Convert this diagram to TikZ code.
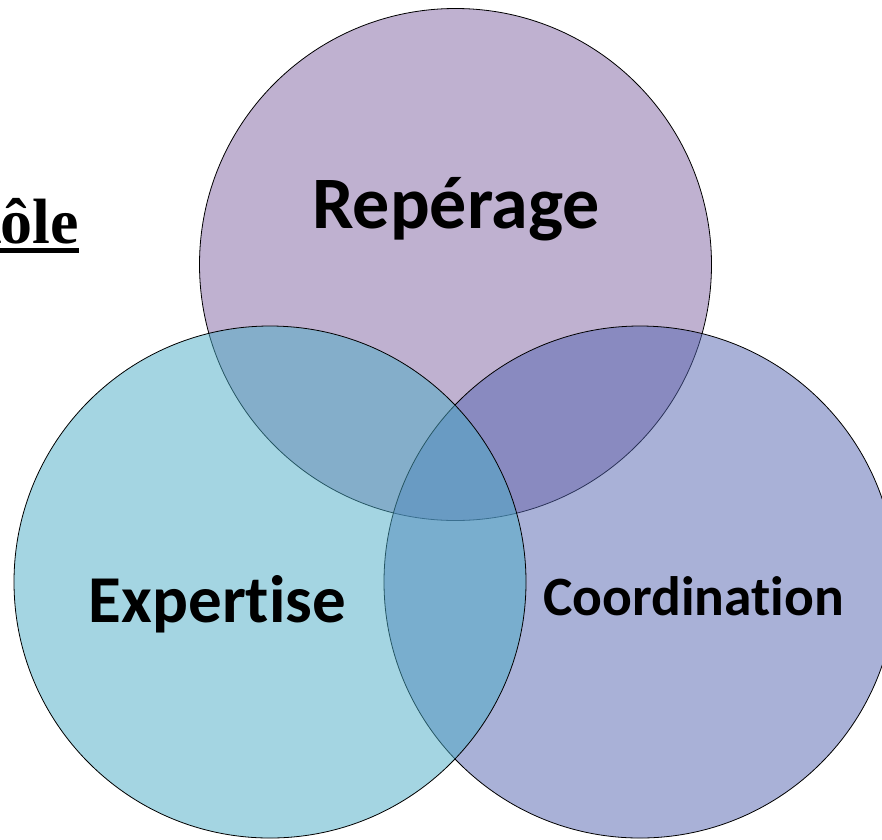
\documentclass[tikz,border=0pt]{standalone}
\usepackage{fontspec}
\setmainfont{Carlito}[Ligatures=NoCommon]
\newfontfamily\serifbold{Liberation Serif}
\definecolor{cTop}{RGB}{128,100,162}
\definecolor{cRight}{RGB}{85,101,177}
\definecolor{cLeft}{RGB}{75,172,198}
\tikzset{
  venn/.style={draw=black, line width=0.8pt, fill opacity=0.5},
  lbl/.style={anchor=base, inner sep=0pt, font=\bfseries},
}
\begin{document}
\begin{tikzpicture}[x=1pt,y=-1pt]
\clip (0,0) rectangle (882,839);
\fill[white] (0,0) rectangle (882,839);
\path[venn, fill=cTop] (455.5,264.5) circle[radius=256];
\path[venn, fill=cRight] (640,582) circle[radius=256];
\path[venn, fill=cLeft] (270,582) circle[radius=256];
\node[lbl, font=\bfseries\fontsize{74}{80}\selectfont] (rep) at (456,228) {Repérage};
\node[lbl, font=\bfseries\fontsize{67}{72}\selectfont] (exp) at (217.5,622) {Expertise};
\node[lbl, font=\bfseries\fontsize{55.5}{60}\selectfont] (coo) at (693.5,615) {Coordination};
\node[anchor=base east, inner sep=0pt, font=\serifbold\bfseries\fontsize{64}{70}\selectfont] (role) at (79,243) {Rôle};
\fill ([yshift=-5pt]role.base west) rectangle ([yshift=-10pt]role.base east);
\end{tikzpicture}
\end{document}
